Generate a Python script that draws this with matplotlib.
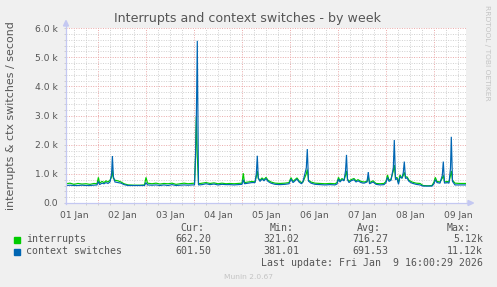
import matplotlib
matplotlib.use("Agg")
import matplotlib.pyplot as plt
from matplotlib.lines import Line2D
from matplotlib.patches import Polygon, Rectangle
import numpy as np

# hours since 01 Jan 00:00
hours = [8, 10, 12, 14, 16, 18, 20, 22, 23.5, 24.2, 24.8, 26, 27, 28, 29, 30, 30.8, 31.2, 31.7,
         32.5, 34, 35.5, 37, 39, 42, 45, 47.25, 48, 48.75, 51, 53, 55, 57, 59, 61, 63, 65,
         67, 69, 71, 72.25, 72.75, 73.15, 73.65, 74.25, 76, 78, 80, 82, 84, 86, 88, 90, 92,
         94, 96, 96.65, 97.25, 99, 101, 102.5, 103.15, 103.65, 104.15, 105, 106, 107, 108,
         109, 110.5, 112.5, 115, 117.5, 119.5, 120.5, 121.5, 122.5, 123.5, 124.5, 125.75,
         126.5, 128.15, 128.65, 129.25, 130.5, 132.5, 135, 137.5, 140, 142.5, 143.5, 144.25,
         145, 146, 147, 147.75, 148.25, 148.75, 149.5, 150.5, 152, 153, 154, 155.5, 157,
         158.5, 159.15, 159.75, 161.5, 163, 165, 167, 168, 168.75, 169.5, 170.5, 171.65,
         172.15, 172.75, 173.5, 174.25, 175, 176, 176.65, 177.15, 177.75, 178.5, 179.5, 181,
         183, 185, 186.5, 189, 191, 192, 192.65, 193.5, 195, 196.15, 196.65, 197.25, 198.5,
         199.5, 200.25, 200.65, 201.25, 202.5, 205, 208]

interrupts = [660, 680, 640, 670, 650, 660, 640, 670, 660, 880, 680, 740, 700, 760, 720, 780, 900, 1130, 850,
              780, 760, 720, 660, 620, 610, 610, 620, 880, 680, 660, 680, 650, 670, 660, 680, 640, 660,
              680, 660, 670, 680, 1590, 2960, 1600, 660, 680, 700, 670, 690, 660, 680, 660, 670, 660,
              670, 680, 1020, 700, 720, 740, 720, 900, 1100, 850, 780, 860, 800, 880,
              780, 720, 680, 670, 680, 700, 870, 740, 800, 860, 760, 700,
              720, 1000, 1150, 780, 720, 680, 670, 660, 670, 660, 700, 880,
              760, 840, 780, 950, 1100, 820, 740, 800, 840, 760, 800, 740, 720,
              740, 900, 700, 760, 670, 660, 670, 740, 960, 780, 820, 1100,
              1300, 850, 880, 700, 960, 850, 950, 1050, 880, 900, 780, 720,
              680, 670, 600, 590, 600, 720, 880, 740, 720, 850, 950, 720, 740,
              720, 950, 1100, 780, 680, 670, 670]

ctx_switches = [600, 610, 600, 600, 610, 600, 600, 610, 620, 740, 630, 680, 660, 700, 670, 720, 1000, 1610, 900,
                720, 700, 680, 630, 600, 600, 600, 600, 700, 620, 610, 620, 600, 620, 600, 630, 600, 610,
                620, 610, 620, 620, 1550, 2800, 5560, 620, 630, 660, 630, 650, 620, 640, 630, 630, 620,
                630, 640, 800, 660, 680, 700, 700, 1000, 1620, 850, 740, 820, 760, 840,
                740, 680, 640, 630, 640, 660, 820, 700, 760, 820, 720, 660,
                740, 1200, 1850, 750, 680, 640, 630, 620, 630, 620, 650, 820,
                720, 800, 760, 1100, 1650, 800, 700, 760, 800, 720, 760, 700, 680,
                720, 1060, 660, 720, 640, 620, 630, 700, 880, 740, 780, 1200,
                2160, 800, 840, 640, 900, 850, 1050, 1420, 840, 860, 740, 680,
                640, 620, 580, 580, 580, 660, 800, 700, 680, 950, 1420, 680, 700,
                680, 1200, 2270, 740, 620, 620, 620]

day_labels = ["01 Jan", "02 Jan", "03 Jan", "04 Jan", "05 Jan", "06 Jan", "07 Jan", "08 Jan", "09 Jan"]
y_labels = ["0.0", "1.0 k", "2.0 k", "3.0 k", "4.0 k", "5.0 k", "6.0 k"]

W, H = 497, 287


def fx(x):
    return x / W


def fy(y):
    return 1 - y / H


fig = plt.figure(figsize=(W / 100, H / 100), dpi=100, facecolor="#F0F0F0")
ax = fig.add_axes([fx(66), fy(203), 400 / W, 175 / H])
ax.set_facecolor("white")
ax.set_xlim(8, 208)
ax.set_ylim(0, 6000)
for s in ax.spines.values():
    s.set_visible(False)

# grid
minor_col, major_col = "#D0D0D0", "#EAA8A8"
for h in np.arange(12, 208, 6):
    col = major_col if h % 24 == 0 else minor_col
    ax.axvline(h, color=col, lw=0.7, ls=(0, (1, 1.5)), zorder=1)
for v in np.arange(200, 6001, 200):
    col = major_col if v % 1000 == 0 else minor_col
    ax.axhline(v, color=col, lw=0.7, ls=(0, (1, 1.5)), zorder=1)

ax.plot(hours, interrupts, color="#00CC00", lw=0.85, zorder=3, solid_joinstyle="miter")
ax.plot(hours, ctx_switches, color="#0066B3", lw=0.85, zorder=4, solid_joinstyle="miter")

ax.set_xticks([12 + 24 * i for i in range(len(day_labels))])
ax.set_xticklabels(day_labels)
ax.set_xticks(np.arange(12, 208, 6), minor=True)
ax.set_yticks(np.arange(0, 6001, 1000))
ax.set_yticklabels(y_labels)
ax.set_yticks(np.arange(0, 6001, 200), minor=True)
ax.tick_params(which="both", length=1.5, width=0.6, color="#C8C8C8", direction="out")
ax.tick_params(axis="x", which="major", length=0, pad=6, labelsize=6.6, labelcolor="#555555")
ax.tick_params(axis="y", which="major", pad=4.5, labelsize=6.6, labelcolor="#555555")

# axes with arrows
axis_col = "#C4C8F2"
fig.add_artist(Line2D([fx(66), fx(66)], [fy(204), fy(24)], color=axis_col, lw=0.9))
fig.add_artist(Line2D([fx(65), fx(469)], [fy(203), fy(203)], color=axis_col, lw=0.9))
fig.add_artist(Polygon([[fx(63.5), fy(26)], [fx(68.5), fy(26)], [fx(66), fy(20.5)]],
                       closed=True, color=axis_col, transform=fig.transFigure))
fig.add_artist(Polygon([[fx(468), fy(200.5)], [fx(468), fy(205.5)], [fx(473.5), fy(203)]],
                       closed=True, color=axis_col, transform=fig.transFigure))

fig.text(fx(248), fy(22.3), "Interrupts and context switches - by week", ha="center",
         va="baseline", fontsize=9.1, color="#555555")
fig.text(fx(11), fy(115.5), "interrupts & ctx switches / second", rotation=90,
         ha="center", va="center", fontsize=7.9, color="#555555")
fig.text(fx(487.5), fy(53), "RRDTOOL / TOBI OETIKER", rotation=270, ha="center",
         va="center", fontsize=5.4, color="#C4C4C4")

mono = dict(family="DejaVu Sans Mono", fontsize=7.1, color="#555555", va="baseline")
fig.text(fx(204), fy(230.7), "Cur:", ha="right", **mono)
fig.text(fx(293.5), fy(230.7), "Min:", ha="right", **mono)
fig.text(fx(381), fy(230.7), "Avg:", ha="right", **mono)
fig.text(fx(470.5), fy(230.7), "Max:", ha="right", **mono)

rows = [("interrupts", "#00CC00", ["662.20", "321.02", "716.27", "5.12k"], 242.3),
        ("context switches", "#0066B3", ["601.50", "381.01", "691.53", "11.12k"], 254.0)]
for name, col, vals, yb in rows:
    fig.add_artist(Rectangle((fx(14), fy(yb + 1)), 6 / W, 6 / H, color=col,
                             transform=fig.transFigure))
    fig.text(fx(26), fy(yb), name, ha="left", **mono)
    for xr, v in zip([211, 299.5, 388, 483], vals):
        fig.text(fx(xr), fy(yb), v, ha="right", **mono)

fig.text(fx(483), fy(266.3), "Last update: Fri Jan  9 16:00:29 2026", ha="right", **mono)
fig.text(fx(248), fy(279), "Munin 2.0.67", ha="center", va="baseline", fontsize=5.4,
         color="#C4C4C4")

fig.savefig("out.png", dpi=100, facecolor=fig.get_facecolor())
